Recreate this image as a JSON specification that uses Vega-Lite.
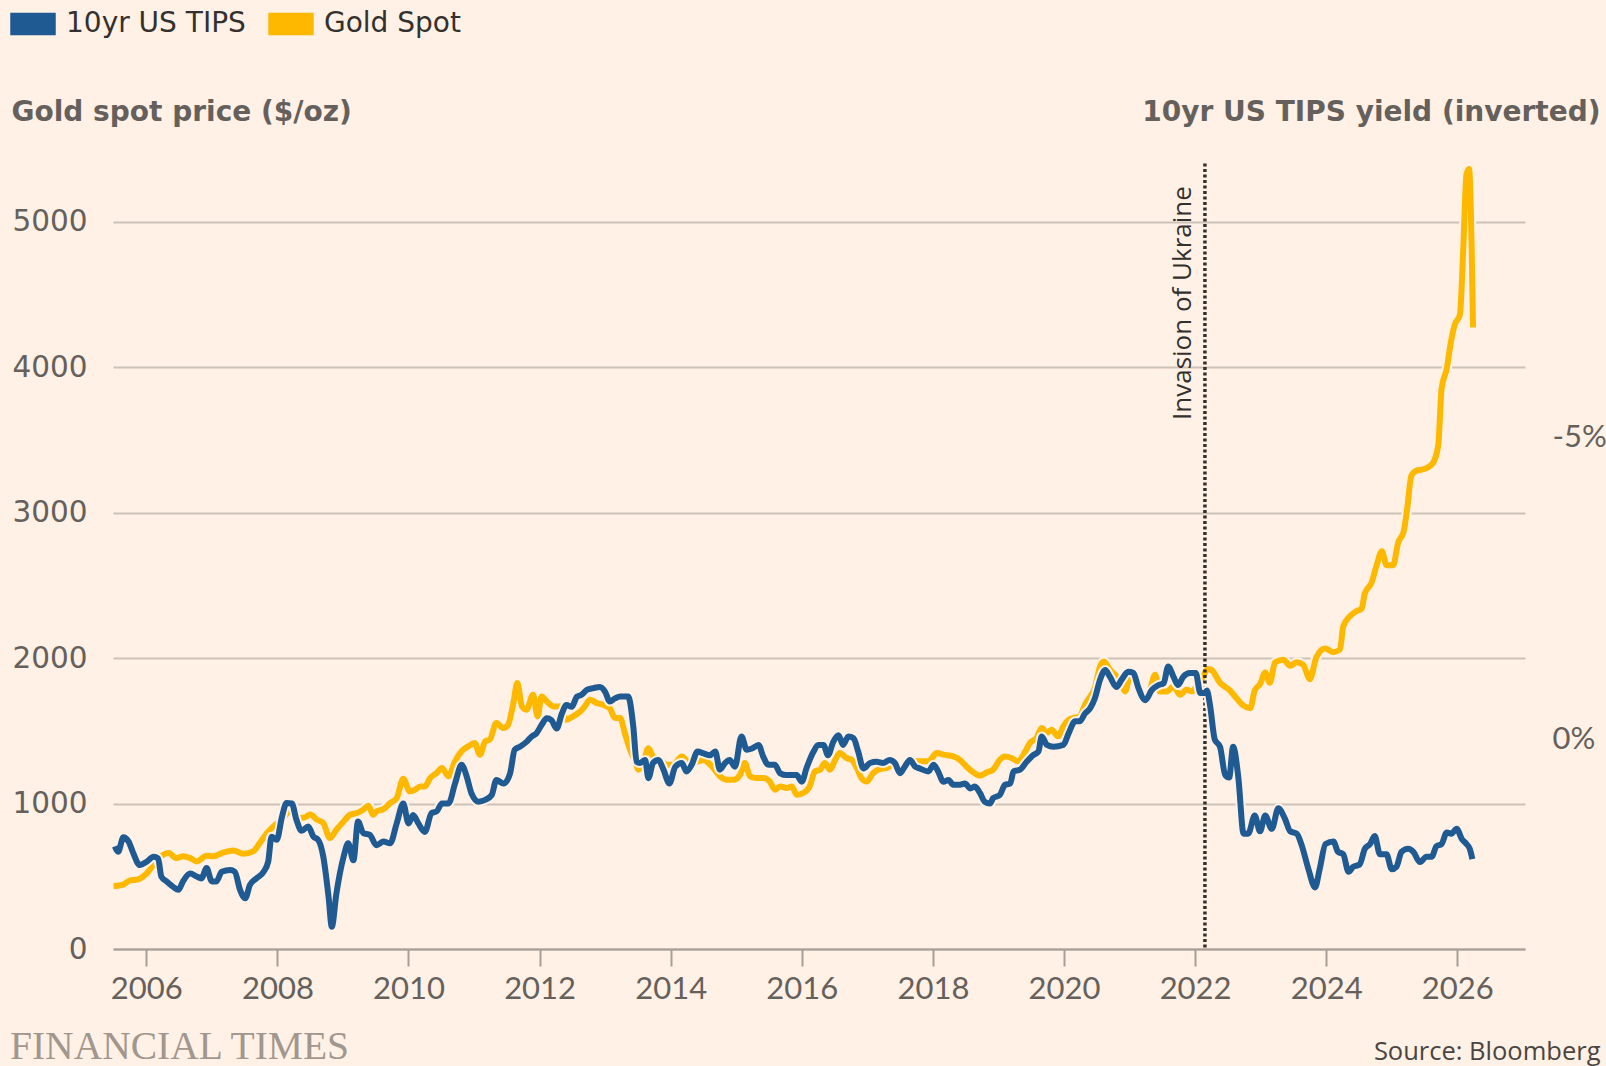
{
  "$schema": "https://vega.github.io/schema/vega-lite/v6.json",
  "autosize": {"type": "none"},
  "width": 1412,
  "height": 800,
  "padding": {"left": 113, "top": 149, "right": 81, "bottom": 117},
  "background": "#fff1e5",
  "config": {
    "view": {"stroke": null},
    "font": "Lato",
    "axis": {"labelFont": "Lato", "titleFont": "DejaVu Sans"}
  },
  "title": {
    "text": "FINANCIAL TIMES",
    "orient": "bottom",
    "anchor": "start",
    "frame": "group",
    "dx": -103,
    "offset": -6,
    "baseline": "alphabetic",
    "font": "Liberation Serif",
    "fontSize": 39.5,
    "fontWeight": "normal",
    "color": "#a1978e"
  },
  "datasets": {
    "gold": [
      {"year": 2005.50, "price": 431}, {"year": 2005.65, "price": 442}, {"year": 2005.75, "price": 472}, {"year": 2005.85, "price": 476},
      {"year": 2006.01, "price": 522}, {"year": 2006.11, "price": 580}, {"year": 2006.26, "price": 648}, {"year": 2006.34, "price": 660},
      {"year": 2006.46, "price": 625}, {"year": 2006.56, "price": 637}, {"year": 2006.67, "price": 625}, {"year": 2006.77, "price": 602},
      {"year": 2006.92, "price": 641}, {"year": 2007.02, "price": 637}, {"year": 2007.18, "price": 664}, {"year": 2007.33, "price": 678},
      {"year": 2007.48, "price": 655}, {"year": 2007.63, "price": 671}, {"year": 2007.73, "price": 728}, {"year": 2007.84, "price": 797},
      {"year": 2007.94, "price": 843}, {"year": 2008.04, "price": 880}, {"year": 2008.14, "price": 930}, {"year": 2008.22, "price": 975},
      {"year": 2008.32, "price": 900}, {"year": 2008.42, "price": 905}, {"year": 2008.50, "price": 925}, {"year": 2008.60, "price": 890},
      {"year": 2008.70, "price": 866}, {"year": 2008.80, "price": 763}, {"year": 2008.90, "price": 820}, {"year": 2009.01, "price": 877},
      {"year": 2009.11, "price": 923}, {"year": 2009.21, "price": 935}, {"year": 2009.31, "price": 958}, {"year": 2009.39, "price": 985},
      {"year": 2009.46, "price": 923}, {"year": 2009.51, "price": 946}, {"year": 2009.62, "price": 962}, {"year": 2009.72, "price": 1003},
      {"year": 2009.82, "price": 1038}, {"year": 2009.92, "price": 1170}, {"year": 2010.02, "price": 1084}, {"year": 2010.10, "price": 1095},
      {"year": 2010.18, "price": 1118}, {"year": 2010.25, "price": 1118}, {"year": 2010.33, "price": 1175}, {"year": 2010.43, "price": 1210},
      {"year": 2010.51, "price": 1244}, {"year": 2010.61, "price": 1187}, {"year": 2010.71, "price": 1290}, {"year": 2010.81, "price": 1359},
      {"year": 2010.91, "price": 1393}, {"year": 2011.01, "price": 1416}, {"year": 2011.09, "price": 1336}, {"year": 2011.17, "price": 1427},
      {"year": 2011.24, "price": 1439}, {"year": 2011.34, "price": 1553}, {"year": 2011.45, "price": 1519}, {"year": 2011.52, "price": 1542},
      {"year": 2011.60, "price": 1691}, {"year": 2011.66, "price": 1828}, {"year": 2011.73, "price": 1668}, {"year": 2011.80, "price": 1645},
      {"year": 2011.90, "price": 1748}, {"year": 2011.97, "price": 1599}, {"year": 2012.03, "price": 1736}, {"year": 2012.11, "price": 1702},
      {"year": 2012.21, "price": 1668}, {"year": 2012.31, "price": 1668}, {"year": 2012.41, "price": 1576}, {"year": 2012.51, "price": 1599},
      {"year": 2012.62, "price": 1633}, {"year": 2012.69, "price": 1668}, {"year": 2012.77, "price": 1714}, {"year": 2012.87, "price": 1691},
      {"year": 2012.97, "price": 1679}, {"year": 2013.07, "price": 1656}, {"year": 2013.15, "price": 1588}, {"year": 2013.23, "price": 1588},
      {"year": 2013.30, "price": 1485}, {"year": 2013.38, "price": 1370}, {"year": 2013.45, "price": 1301}, {"year": 2013.51, "price": 1233},
      {"year": 2013.58, "price": 1278}, {"year": 2013.66, "price": 1381}, {"year": 2013.73, "price": 1324}, {"year": 2013.84, "price": 1301},
      {"year": 2013.94, "price": 1267}, {"year": 2014.04, "price": 1267}, {"year": 2014.17, "price": 1324}, {"year": 2014.29, "price": 1278},
      {"year": 2014.42, "price": 1290}, {"year": 2014.50, "price": 1300}, {"year": 2014.55, "price": 1290}, {"year": 2014.65, "price": 1244},
      {"year": 2014.75, "price": 1187}, {"year": 2014.85, "price": 1164}, {"year": 2014.96, "price": 1164}, {"year": 2015.06, "price": 1198},
      {"year": 2015.13, "price": 1278}, {"year": 2015.21, "price": 1187}, {"year": 2015.31, "price": 1175}, {"year": 2015.41, "price": 1175},
      {"year": 2015.51, "price": 1152}, {"year": 2015.59, "price": 1095}, {"year": 2015.67, "price": 1118}, {"year": 2015.77, "price": 1107},
      {"year": 2015.85, "price": 1118}, {"year": 2015.92, "price": 1061}, {"year": 2016.02, "price": 1072}, {"year": 2016.12, "price": 1118},
      {"year": 2016.20, "price": 1221}, {"year": 2016.28, "price": 1233}, {"year": 2016.35, "price": 1278}, {"year": 2016.43, "price": 1233},
      {"year": 2016.51, "price": 1301}, {"year": 2016.58, "price": 1347}, {"year": 2016.68, "price": 1313}, {"year": 2016.76, "price": 1301},
      {"year": 2016.84, "price": 1244}, {"year": 2016.91, "price": 1175}, {"year": 2016.99, "price": 1152}, {"year": 2017.09, "price": 1210},
      {"year": 2017.19, "price": 1237}, {"year": 2017.29, "price": 1244}, {"year": 2017.40, "price": 1267}, {"year": 2017.50, "price": 1233},
      {"year": 2017.65, "price": 1290}, {"year": 2017.80, "price": 1290}, {"year": 2017.93, "price": 1290}, {"year": 2018.06, "price": 1347},
      {"year": 2018.16, "price": 1336}, {"year": 2018.31, "price": 1324}, {"year": 2018.41, "price": 1301}, {"year": 2018.51, "price": 1255},
      {"year": 2018.62, "price": 1214}, {"year": 2018.72, "price": 1192}, {"year": 2018.82, "price": 1214}, {"year": 2018.92, "price": 1233},
      {"year": 2019.02, "price": 1301}, {"year": 2019.10, "price": 1324}, {"year": 2019.20, "price": 1313}, {"year": 2019.30, "price": 1290},
      {"year": 2019.41, "price": 1359}, {"year": 2019.48, "price": 1416}, {"year": 2019.58, "price": 1450}, {"year": 2019.66, "price": 1519},
      {"year": 2019.74, "price": 1485}, {"year": 2019.81, "price": 1508}, {"year": 2019.91, "price": 1462}, {"year": 2019.99, "price": 1531},
      {"year": 2020.07, "price": 1576}, {"year": 2020.14, "price": 1588}, {"year": 2020.24, "price": 1599}, {"year": 2020.32, "price": 1679},
      {"year": 2020.40, "price": 1736}, {"year": 2020.47, "price": 1794}, {"year": 2020.55, "price": 1943}, {"year": 2020.61, "price": 1977},
      {"year": 2020.70, "price": 1920}, {"year": 2020.80, "price": 1874}, {"year": 2020.88, "price": 1817}, {"year": 2020.93, "price": 1771},
      {"year": 2021.01, "price": 1874}, {"year": 2021.11, "price": 1851}, {"year": 2021.21, "price": 1736}, {"year": 2021.31, "price": 1782},
      {"year": 2021.39, "price": 1885}, {"year": 2021.46, "price": 1771}, {"year": 2021.57, "price": 1771}, {"year": 2021.67, "price": 1805},
      {"year": 2021.77, "price": 1748}, {"year": 2021.87, "price": 1782}, {"year": 2021.95, "price": 1771}, {"year": 2022.02, "price": 1805},
      {"year": 2022.13, "price": 1880}, {"year": 2022.19, "price": 1925}, {"year": 2022.25, "price": 1918}, {"year": 2022.38, "price": 1831},
      {"year": 2022.53, "price": 1778}, {"year": 2022.63, "price": 1725}, {"year": 2022.74, "price": 1673}, {"year": 2022.84, "price": 1655},
      {"year": 2022.91, "price": 1778}, {"year": 2022.99, "price": 1820}, {"year": 2023.07, "price": 1901}, {"year": 2023.14, "price": 1831},
      {"year": 2023.22, "price": 1971}, {"year": 2023.35, "price": 1989}, {"year": 2023.45, "price": 1947}, {"year": 2023.55, "price": 1971},
      {"year": 2023.65, "price": 1954}, {"year": 2023.75, "price": 1855}, {"year": 2023.85, "price": 2006}, {"year": 2023.98, "price": 2066},
      {"year": 2024.11, "price": 2041}, {"year": 2024.21, "price": 2059}, {"year": 2024.26, "price": 2217}, {"year": 2024.36, "price": 2287},
      {"year": 2024.46, "price": 2322}, {"year": 2024.54, "price": 2340}, {"year": 2024.59, "price": 2446}, {"year": 2024.69, "price": 2516},
      {"year": 2024.77, "price": 2639}, {"year": 2024.85, "price": 2734}, {"year": 2024.92, "price": 2639}, {"year": 2025.02, "price": 2639},
      {"year": 2025.10, "price": 2797}, {"year": 2025.18, "price": 2867}, {"year": 2025.23, "price": 3008}, {"year": 2025.30, "price": 3254},
      {"year": 2025.38, "price": 3289}, {"year": 2025.46, "price": 3296}, {"year": 2025.53, "price": 3306}, {"year": 2025.63, "price": 3342},
      {"year": 2025.71, "price": 3465}, {"year": 2025.76, "price": 3851}, {"year": 2025.84, "price": 3992}, {"year": 2025.90, "price": 4167},
      {"year": 2025.96, "price": 4290}, {"year": 2026.04, "price": 4360}, {"year": 2026.09, "price": 4800}, {"year": 2026.14, "price": 5327},
      {"year": 2026.18, "price": 5362}, {"year": 2026.22, "price": 4800}, {"year": 2026.24, "price": 4273}
    ],
    "tips": [
      {"year": 2005.52, "yield": 1.77}, {"year": 2005.57, "yield": 1.86}, {"year": 2005.65, "yield": 1.62}, {"year": 2005.73, "yield": 1.69},
      {"year": 2005.80, "yield": 1.88}, {"year": 2005.90, "yield": 2.08}, {"year": 2006.01, "yield": 2.02}, {"year": 2006.11, "yield": 1.94},
      {"year": 2006.18, "yield": 1.97}, {"year": 2006.23, "yield": 2.27}, {"year": 2006.31, "yield": 2.35}, {"year": 2006.41, "yield": 2.44},
      {"year": 2006.49, "yield": 2.49}, {"year": 2006.56, "yield": 2.35}, {"year": 2006.67, "yield": 2.22}, {"year": 2006.77, "yield": 2.27},
      {"year": 2006.84, "yield": 2.30}, {"year": 2006.92, "yield": 2.13}, {"year": 2007.00, "yield": 2.35}, {"year": 2007.07, "yield": 2.35},
      {"year": 2007.15, "yield": 2.19}, {"year": 2007.28, "yield": 2.16}, {"year": 2007.35, "yield": 2.19}, {"year": 2007.43, "yield": 2.49},
      {"year": 2007.51, "yield": 2.63}, {"year": 2007.58, "yield": 2.41}, {"year": 2007.68, "yield": 2.30}, {"year": 2007.79, "yield": 2.19},
      {"year": 2007.86, "yield": 2.02}, {"year": 2007.91, "yield": 1.61}, {"year": 2007.99, "yield": 1.66}, {"year": 2008.07, "yield": 1.28},
      {"year": 2008.14, "yield": 1.05}, {"year": 2008.22, "yield": 1.06}, {"year": 2008.29, "yield": 1.33}, {"year": 2008.37, "yield": 1.51},
      {"year": 2008.47, "yield": 1.44}, {"year": 2008.55, "yield": 1.61}, {"year": 2008.62, "yield": 1.66}, {"year": 2008.70, "yield": 1.94},
      {"year": 2008.78, "yield": 2.60}, {"year": 2008.83, "yield": 3.10}, {"year": 2008.90, "yield": 2.55}, {"year": 2009.01, "yield": 1.94},
      {"year": 2009.08, "yield": 1.72}, {"year": 2009.16, "yield": 2.00}, {"year": 2009.23, "yield": 1.36}, {"year": 2009.31, "yield": 1.55},
      {"year": 2009.41, "yield": 1.58}, {"year": 2009.51, "yield": 1.75}, {"year": 2009.62, "yield": 1.69}, {"year": 2009.72, "yield": 1.72},
      {"year": 2009.82, "yield": 1.39}, {"year": 2009.92, "yield": 1.06}, {"year": 2010.00, "yield": 1.39}, {"year": 2010.07, "yield": 1.25},
      {"year": 2010.15, "yield": 1.39}, {"year": 2010.25, "yield": 1.53}, {"year": 2010.35, "yield": 1.22}, {"year": 2010.43, "yield": 1.19},
      {"year": 2010.51, "yield": 1.06}, {"year": 2010.61, "yield": 1.06}, {"year": 2010.71, "yield": 0.73}, {"year": 2010.81, "yield": 0.42},
      {"year": 2010.89, "yield": 0.62}, {"year": 2010.96, "yield": 0.89}, {"year": 2011.07, "yield": 1.03}, {"year": 2011.17, "yield": 1.00},
      {"year": 2011.27, "yield": 0.92}, {"year": 2011.34, "yield": 0.67}, {"year": 2011.45, "yield": 0.73}, {"year": 2011.55, "yield": 0.56},
      {"year": 2011.62, "yield": 0.17}, {"year": 2011.70, "yield": 0.12}, {"year": 2011.80, "yield": 0.04}, {"year": 2011.88, "yield": -0.05},
      {"year": 2011.95, "yield": -0.10}, {"year": 2012.03, "yield": -0.24}, {"year": 2012.11, "yield": -0.35}, {"year": 2012.18, "yield": -0.32},
      {"year": 2012.26, "yield": -0.18}, {"year": 2012.34, "yield": -0.43}, {"year": 2012.41, "yield": -0.57}, {"year": 2012.49, "yield": -0.54},
      {"year": 2012.57, "yield": -0.71}, {"year": 2012.64, "yield": -0.74}, {"year": 2012.72, "yield": -0.82}, {"year": 2012.82, "yield": -0.85},
      {"year": 2012.92, "yield": -0.87}, {"year": 2013.00, "yield": -0.79}, {"year": 2013.07, "yield": -0.63}, {"year": 2013.15, "yield": -0.68},
      {"year": 2013.23, "yield": -0.71}, {"year": 2013.35, "yield": -0.71}, {"year": 2013.43, "yield": -0.21}, {"year": 2013.48, "yield": 0.37},
      {"year": 2013.53, "yield": 0.39}, {"year": 2013.61, "yield": 0.34}, {"year": 2013.66, "yield": 0.64}, {"year": 2013.73, "yield": 0.39},
      {"year": 2013.81, "yield": 0.34}, {"year": 2013.89, "yield": 0.50}, {"year": 2013.98, "yield": 0.73}, {"year": 2014.07, "yield": 0.45},
      {"year": 2014.17, "yield": 0.39}, {"year": 2014.24, "yield": 0.53}, {"year": 2014.32, "yield": 0.42}, {"year": 2014.41, "yield": 0.20},
      {"year": 2014.50, "yield": 0.23}, {"year": 2014.60, "yield": 0.26}, {"year": 2014.68, "yield": 0.20}, {"year": 2014.75, "yield": 0.50},
      {"year": 2014.83, "yield": 0.39}, {"year": 2014.90, "yield": 0.34}, {"year": 2014.98, "yield": 0.45}, {"year": 2015.08, "yield": -0.05},
      {"year": 2015.16, "yield": 0.17}, {"year": 2015.24, "yield": 0.15}, {"year": 2015.34, "yield": 0.09}, {"year": 2015.41, "yield": 0.28},
      {"year": 2015.49, "yield": 0.42}, {"year": 2015.59, "yield": 0.42}, {"year": 2015.67, "yield": 0.56}, {"year": 2015.77, "yield": 0.59},
      {"year": 2015.92, "yield": 0.59}, {"year": 2016.00, "yield": 0.70}, {"year": 2016.07, "yield": 0.48}, {"year": 2016.18, "yield": 0.20},
      {"year": 2016.25, "yield": 0.09}, {"year": 2016.33, "yield": 0.09}, {"year": 2016.40, "yield": 0.26}, {"year": 2016.48, "yield": 0.04},
      {"year": 2016.56, "yield": -0.07}, {"year": 2016.63, "yield": 0.09}, {"year": 2016.71, "yield": -0.05}, {"year": 2016.79, "yield": -0.02},
      {"year": 2016.86, "yield": 0.20}, {"year": 2016.94, "yield": 0.48}, {"year": 2017.04, "yield": 0.39}, {"year": 2017.14, "yield": 0.37},
      {"year": 2017.24, "yield": 0.39}, {"year": 2017.34, "yield": 0.34}, {"year": 2017.42, "yield": 0.39}, {"year": 2017.50, "yield": 0.56},
      {"year": 2017.57, "yield": 0.45}, {"year": 2017.65, "yield": 0.34}, {"year": 2017.73, "yield": 0.45}, {"year": 2017.80, "yield": 0.48},
      {"year": 2017.93, "yield": 0.53}, {"year": 2018.01, "yield": 0.42}, {"year": 2018.08, "yield": 0.53}, {"year": 2018.16, "yield": 0.70},
      {"year": 2018.24, "yield": 0.67}, {"year": 2018.31, "yield": 0.75}, {"year": 2018.41, "yield": 0.75}, {"year": 2018.49, "yield": 0.73},
      {"year": 2018.57, "yield": 0.81}, {"year": 2018.64, "yield": 0.78}, {"year": 2018.72, "yield": 0.89}, {"year": 2018.79, "yield": 1.03},
      {"year": 2018.87, "yield": 1.06}, {"year": 2018.92, "yield": 0.97}, {"year": 2019.02, "yield": 0.92}, {"year": 2019.10, "yield": 0.75},
      {"year": 2019.18, "yield": 0.73}, {"year": 2019.23, "yield": 0.53}, {"year": 2019.33, "yield": 0.50}, {"year": 2019.43, "yield": 0.37},
      {"year": 2019.53, "yield": 0.26}, {"year": 2019.61, "yield": 0.20}, {"year": 2019.66, "yield": -0.05}, {"year": 2019.74, "yield": 0.09},
      {"year": 2019.84, "yield": 0.12}, {"year": 2019.99, "yield": 0.09}, {"year": 2020.07, "yield": -0.10}, {"year": 2020.17, "yield": -0.30},
      {"year": 2020.24, "yield": -0.30}, {"year": 2020.32, "yield": -0.43}, {"year": 2020.40, "yield": -0.52}, {"year": 2020.47, "yield": -0.68},
      {"year": 2020.55, "yield": -0.99}, {"year": 2020.63, "yield": -1.15}, {"year": 2020.70, "yield": -1.04}, {"year": 2020.80, "yield": -0.87},
      {"year": 2020.88, "yield": -0.99}, {"year": 2020.98, "yield": -1.12}, {"year": 2021.06, "yield": -1.10}, {"year": 2021.13, "yield": -0.87},
      {"year": 2021.24, "yield": -0.65}, {"year": 2021.34, "yield": -0.82}, {"year": 2021.44, "yield": -0.90}, {"year": 2021.52, "yield": -0.93},
      {"year": 2021.59, "yield": -1.21}, {"year": 2021.67, "yield": -1.04}, {"year": 2021.74, "yield": -0.90}, {"year": 2021.82, "yield": -1.04},
      {"year": 2021.92, "yield": -1.10}, {"year": 2022.01, "yield": -1.10}, {"year": 2022.08, "yield": -0.77}, {"year": 2022.15, "yield": -0.77},
      {"year": 2022.18, "yield": -0.81}, {"year": 2022.23, "yield": -0.55}, {"year": 2022.30, "yield": 0.00}, {"year": 2022.38, "yield": 0.12},
      {"year": 2022.46, "yield": 0.59}, {"year": 2022.52, "yield": 0.63}, {"year": 2022.58, "yield": 0.12}, {"year": 2022.66, "yield": 0.63},
      {"year": 2022.74, "yield": 1.56}, {"year": 2022.81, "yield": 1.56}, {"year": 2022.91, "yield": 1.26}, {"year": 2022.99, "yield": 1.52},
      {"year": 2023.07, "yield": 1.26}, {"year": 2023.17, "yield": 1.48}, {"year": 2023.27, "yield": 1.14}, {"year": 2023.37, "yield": 1.31},
      {"year": 2023.45, "yield": 1.52}, {"year": 2023.55, "yield": 1.56}, {"year": 2023.62, "yield": 1.73}, {"year": 2023.73, "yield": 2.15},
      {"year": 2023.83, "yield": 2.45}, {"year": 2023.90, "yield": 2.15}, {"year": 2023.99, "yield": 1.73}, {"year": 2024.11, "yield": 1.69},
      {"year": 2024.18, "yield": 1.86}, {"year": 2024.26, "yield": 1.90}, {"year": 2024.34, "yield": 2.19}, {"year": 2024.41, "yield": 2.11},
      {"year": 2024.51, "yield": 2.07}, {"year": 2024.59, "yield": 1.81}, {"year": 2024.67, "yield": 1.73}, {"year": 2024.74, "yield": 1.60},
      {"year": 2024.82, "yield": 1.90}, {"year": 2024.92, "yield": 1.90}, {"year": 2025.00, "yield": 2.15}, {"year": 2025.07, "yield": 2.11},
      {"year": 2025.15, "yield": 1.86}, {"year": 2025.25, "yield": 1.81}, {"year": 2025.33, "yield": 1.86}, {"year": 2025.43, "yield": 2.03},
      {"year": 2025.53, "yield": 1.94}, {"year": 2025.61, "yield": 1.94}, {"year": 2025.68, "yield": 1.77}, {"year": 2025.76, "yield": 1.73},
      {"year": 2025.84, "yield": 1.54}, {"year": 2025.91, "yield": 1.56}, {"year": 2025.99, "yield": 1.48}, {"year": 2026.07, "yield": 1.65},
      {"year": 2026.14, "yield": 1.73}, {"year": 2026.19, "yield": 1.81}, {"year": 2026.23, "yield": 1.98}
    ],
    "events": [{"year": 2022.15, "label": "Invasion of Ukraine"}]
  },
  "encoding": {
    "x": {
      "field": "year",
      "type": "quantitative",
      "scale": {"domain": [2005.492, 2027.033], "nice": false, "zero": false},
      "axis": {
        "values": [2006, 2008, 2010, 2012, 2014, 2016, 2018, 2020, 2022, 2024, 2026],
        "format": "d",
        "grid": false,
        "domain": true,
        "domainColor": "#a69e97",
        "domainWidth": 2,
        "ticks": true,
        "tickSize": 17,
        "tickColor": "#a69e97",
        "tickWidth": 2,
        "labelPadding": 8,
        "labelFontSize": 31,
        "labelColor": "#66605c",
        "labelFlush": false,
        "title": "Source: Bloomberg",
        "titleFont": "Open Sans",
        "titleAnchor": "end",
        "titleAlign": "right",
        "titleBaseline": "alphabetic",
        "titleX": 1487,
        "titleY": 110,
        "titleFontSize": 25.5,
        "titleFontWeight": "normal",
        "titleColor": "#4a4542"
      }
    }
  },
  "layer": [
    {
      "layer": [
        {
          "data": {"name": "gold"},
          "mark": {"type": "line", "stroke": "#fff1e5", "strokeWidth": 10, "interpolate": "monotone"},
          "encoding": {
            "y": {
              "field": "price",
              "type": "quantitative",
              "scale": {"domain": [0, 5500], "nice": false, "zero": true},
              "axis": {
                "orient": "left",
                "values": [0, 1000, 2000, 3000, 4000, 5000],
                "format": "d",
                "grid": true,
                "gridColor": "#cdc2b8",
                "gridWidth": 2,
                "domain": false,
                "ticks": false,
                "labelPadding": 26,
                "labelFont": "DejaVu Sans",
                "labelFontSize": 29.5,
                "labelColor": "#66605c",
                "title": "Gold spot price ($/oz)",
                "titleAngle": 0,
                "titleAlign": "left",
                "titleBaseline": "alphabetic",
                "titleX": -102,
                "titleY": -29,
                "titleFontSize": 28,
                "titleFontWeight": "bold",
                "titleColor": "#66605c"
              }
            }
          }
        },
        {
          "data": {"name": "gold"},
          "transform": [{"calculate": "'Gold Spot'", "as": "series"}],
          "mark": {"type": "line", "strokeWidth": 6, "interpolate": "monotone"},
          "encoding": {
            "y": {"field": "price", "type": "quantitative"},
            "color": {
              "field": "series",
              "type": "nominal",
              "scale": {"domain": ["10yr US TIPS", "Gold Spot"], "range": ["#1f5a93", "#ffb800"]},
              "legend": {
                "orient": "none",
                "legendX": -103,
                "legendY": -148,
                "direction": "horizontal",
                "title": null,
                "padding": 0,
                "symbolType": "M-1,-0.48H1V0.48H-1Z",
                "symbolSize": 1936,
                "labelFont": "DejaVu Sans",
                "labelFontSize": 28,
                "labelLimit": 0,
                "labelColor": "#33302e",
                "labelOffset": 10,
                "columnPadding": 20,
                "encode": {
                  "symbols": {
                    "update": {
                      "fill": {"scale": "color", "field": "value"},
                      "stroke": {"value": "#66605c"},
                      "strokeWidth": {"value": 1.5},
                      "opacity": {"value": 1}
                    }
                  }
                }
              }
            }
          }
        },
        {
          "data": {"name": "events"},
          "mark": {"type": "rule", "stroke": "#33302e", "strokeWidth": 3.5, "strokeDash": [3, 2.5]},
          "encoding": {
            "y": {"datum": 5400},
            "y2": {"datum": 0}
          }
        },
        {
          "data": {"name": "events"},
          "mark": {"type": "text", "angle": 270, "align": "left", "baseline": "alphabetic", "dy": -14, "font": "Open Sans", "fontSize": 26, "color": "#33302e"},
          "encoding": {
            "y": {"datum": 3637},
            "text": {"field": "label"}
          }
        }
      ]
    },
    {
      "layer": [
        {
          "data": {"name": "tips"},
          "mark": {"type": "line", "stroke": "#fff1e5", "strokeWidth": 10, "interpolate": "monotone"},
          "encoding": {
            "y": {
              "field": "yield",
              "type": "quantitative",
              "scale": {"domain": [-9.776, 3.469], "reverse": true, "nice": false, "zero": false},
              "axis": {
                "orient": "right",
                "values": [-5, 0],
                "labelExpr": "datum.value + '%'",
                "grid": false,
                "domain": false,
                "ticks": false,
                "labelPadding": 27,
                "labelAlign": "left",
                "labelFontSize": 31,
                "labelColor": "#66605c",
                "title": "10yr US TIPS yield (inverted)",
                "titleAngle": 0,
                "titleAlign": "right",
                "titleBaseline": "alphabetic",
                "titleX": 75,
                "titleY": -29,
                "titleFontSize": 28,
                "titleFontWeight": "bold",
                "titleColor": "#66605c"
              }
            }
          }
        },
        {
          "data": {"name": "tips"},
          "transform": [{"calculate": "'10yr US TIPS'", "as": "series"}],
          "mark": {"type": "line", "strokeWidth": 6, "interpolate": "monotone"},
          "encoding": {
            "y": {"field": "yield", "type": "quantitative"},
            "color": {"field": "series", "type": "nominal"}
          }
        }
      ]
    }
  ],
  "resolve": {"scale": {"y": "independent"}, "axis": {"y": "independent"}}
}
